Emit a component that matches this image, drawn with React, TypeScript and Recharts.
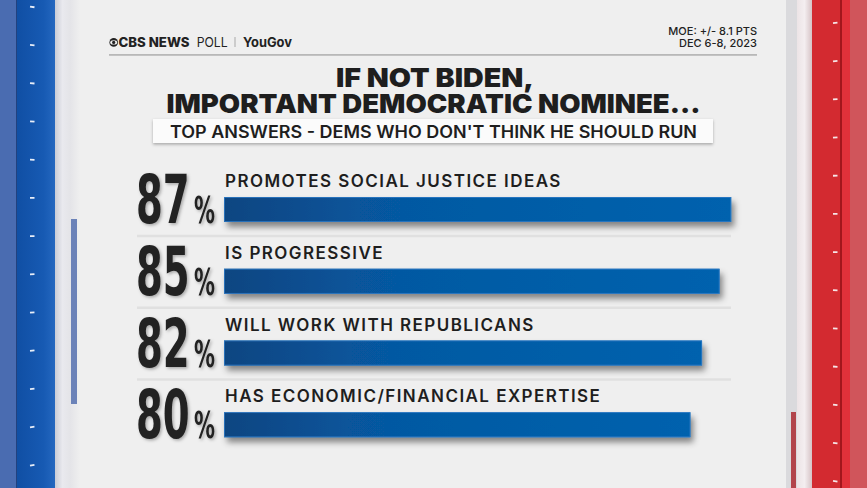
import React from "react";
import { BarChart, Bar, XAxis, YAxis, LabelList } from "recharts";

// Dems who don't think Biden should run: top answers
const answers = [
  "PROMOTES SOCIAL JUSTICE IDEAS",
  "IS PROGRESSIVE",
  "WILL WORK WITH REPUBLICANS",
  "HAS ECONOMIC/FINANCIAL EXPERTISE",
];
const shares = [87, 85, 82, 80];

const data = answers.map((label, i) => ({ label, value: shares[i] }));

const W = 867;
const H = 488;
const INK = "#1e1e1e";
const SANS = "Inter, 'Noto Sans', sans-serif";
const CONDENSED = "'DejaVu Sans Condensed', 'DejaVu Sans', sans-serif";

const BarShape = (props: any) => {
  const { x, y, width, height, index } = props;
  return (
    <g>
      {index < data.length - 1 && (
        <line x1={137} x2={731} y1={y + height + 14} y2={y + height + 14} stroke="#e0e0e0" strokeWidth={2.5} />
      )}
      <rect x={x} y={y} width={width} height={height} fill="url(#barFill)" filter="url(#barShadow)" />
      <rect x={x + 0.4} y={y + 0.4} width={width - 0.8} height={height - 0.8} fill="none" stroke="#2f7bc6" strokeWidth={0.8} />
    </g>
  );
};

const AnswerLabel = (props: any) => {
  const { x, y, value } = props;
  return (
    <text x={x + 1} y={y - 10} fontFamily={SANS} fontWeight={600} fontSize={17} letterSpacing={1.45} fill={INK}>
      {value}
    </text>
  );
};

// big condensed share figure with a smaller % sign
const ShareLabel = (props: any) => {
  const { x, y, height, value } = props;
  const base = y + height + 1;
  return (
    <g filter="url(#numShadow)" fontFamily={CONDENSED} fontWeight={700} fill="#222">
      <g transform={`translate(${x - 88},${base}) scale(0.64,1)`}>
        <text x={0} y={0} fontSize={67}>
          {value}
        </text>
      </g>
      <g transform={`translate(${x - 30},${base}) scale(0.63,1)`}>
        <text x={0} y={0} fontSize={37}>
          %
        </text>
      </g>
    </g>
  );
};

const dashes = Array.from({ length: 13 }, (_, i) => i);

function Frame() {
  return (
    <svg width={W} height={H} style={{ position: "absolute", left: 0, top: 0 }}>
      <defs>
        <linearGradient id="blueBand" x1="0" x2="1" y1="0" y2="0">
          <stop offset="0" stopColor="#104fa4" />
          <stop offset="0.7" stopColor="#175ab3" />
          <stop offset="1" stopColor="#2467bf" />
        </linearGradient>
        <linearGradient id="leftEdge" x1="0" x2="1" y1="0" y2="0">
          <stop offset="0" stopColor="#c9ccd6" />
          <stop offset="0.3" stopColor="#e9e9ee" />
          <stop offset="0.6" stopColor="#e4e4e8" />
          <stop offset="1" stopColor="#efefef" />
        </linearGradient>
        <linearGradient id="rightEdge" x1="0" x2="1" y1="0" y2="0">
          <stop offset="0" stopColor="#ece4e6" />
          <stop offset="0.5" stopColor="#f4eef0" />
          <stop offset="1" stopColor="#d6c3c6" />
        </linearGradient>
        <filter id="boxShadow" x="-5%" y="-40%" width="110%" height="180%">
          <feDropShadow dx="0" dy="1.5" stdDeviation="1.5" floodColor="#000" floodOpacity="0.3" />
        </filter>
      </defs>

      <rect x={0} y={0} width={W} height={H} fill="#efefef" />

      {/* left blue stripe */}
      <rect x={0} y={0} width={17} height={H} fill="#4a6cb1" />
      <rect x={16} y={0} width={1.5} height={H} fill="#22427f" />
      <rect x={17} y={0} width={38} height={H} fill="url(#blueBand)" />
      <rect x={55} y={0} width={25} height={H} fill="url(#leftEdge)" />
      <rect x={71} y={219} width={6} height={185} fill="#6b82b8" />
      {dashes.map((i) => (
        <rect key={"l" + i} x={30} y={6 + i * 38.2} width={4.5} height={1.8} fill="#e8eef8" transform={`rotate(${8 - i * 1.5} 32 ${7 + i * 38.2})`} />
      ))}

      {/* right red stripe */}
      <rect x={786} y={0} width={11} height={H} fill="#dadadd" />
      <rect x={797} y={0} width={15} height={H} fill="url(#rightEdge)" />
      <rect x={812} y={0} width={28} height={H} fill="#d32a30" />
      <rect x={840} y={0} width={2} height={H} fill="#a3161c" />
      <rect x={842} y={0} width={8} height={H} fill="#e1313a" />
      <rect x={850} y={0} width={17} height={H} fill="#d0555b" />
      <rect x={791} y={412} width={5} height={76} fill="#b2454c" />
      {dashes.map((i) => (
        <rect key={"r" + i} x={833} y={22 + i * 38.2} width={4.5} height={1.8} fill="#f6e6e8" transform={`rotate(${-8 + i * 1.5} 835 ${23 + i * 38.2})`} />
      ))}

      {/* header */}
      <circle cx={113.7} cy={42.4} r={4.3} fill="#222" />
      <ellipse cx={113.7} cy={42.4} rx={3.5} ry={2.2} fill="#efefef" />
      <circle cx={113.7} cy={42.4} r={1.6} fill="#222" />
      <text x={118.5} y={46.7} fontFamily={SANS} fontWeight={800} fontSize={13} textLength={71} lengthAdjust="spacingAndGlyphs" fill="#222">
        CBS NEWS
      </text>
      <text x={196.7} y={46.7} fontFamily={SANS} fontWeight={400} fontSize={13} textLength={31} lengthAdjust="spacingAndGlyphs" fill="#222">
        POLL
      </text>
      <rect x={234.5} y={37} width={1} height={10} fill="#aaa" />
      <text x={243} y={46.7} fontFamily={SANS} fontWeight={700} fontSize={13} textLength={49} lengthAdjust="spacingAndGlyphs" fill="#222">
        YouGov
      </text>
      <rect x={109} y={54} width={648} height={1.8} fill="#b8b8b8" />
      <text x={757} y={35} textAnchor="end" fontFamily={SANS} fontWeight={500} fontSize={11} fill="#222">
        MOE: +/- 8.1 PTS
      </text>
      <text x={757} y={47.3} textAnchor="end" fontFamily={SANS} fontWeight={500} fontSize={11} fill="#222">
        DEC 6-8, 2023
      </text>

      {/* title, two lines in one text block */}
      <text textAnchor="middle" fontFamily={SANS} fontWeight={900} fontSize={26} fill={INK}>
        <tspan x={435} y={87} textLength={198} lengthAdjust="spacingAndGlyphs">
          IF NOT BIDEN,
        </tspan>
        <tspan x={433.5} y={113} textLength={534} lengthAdjust="spacingAndGlyphs">
          IMPORTANT DEMOCRATIC NOMINEE...
        </tspan>
      </text>
      <rect x={153} y={119} width={560} height={24} fill="#fbfbfb" filter="url(#boxShadow)" />
      <text x={433.5} y={138} textAnchor="middle" fontFamily={SANS} fontWeight={600} fontSize={17} textLength={527} lengthAdjust="spacingAndGlyphs" fill={INK}>
        TOP ANSWERS - DEMS WHO DON'T THINK HE SHOULD RUN
      </text>
    </svg>
  );
}

export default function App() {
  return (
    <div style={{ position: "absolute", left: 0, top: 0, width: W, height: H, overflow: "hidden" }}>
      <Frame />
      <div style={{ position: "absolute", left: 0, top: 0 }}>
        <BarChart width={W} height={H} data={data} layout="vertical" margin={{ top: 174, right: 60, bottom: 27, left: 224 }}>
          <defs>
            <linearGradient id="barFill" x1="0" x2="1" y1="0" y2="0">
              <stop offset="0" stopColor="#0a4581" />
              <stop offset="0.35" stopColor="#0659a2" />
              <stop offset="1" stopColor="#0562ae" />
            </linearGradient>
            <filter id="barShadow" x="-5%" y="-40%" width="112%" height="200%">
              <feDropShadow dx="3" dy="5" stdDeviation="3" floodColor="#000" floodOpacity="0.45" />
            </filter>
            <filter id="numShadow" x="-20%" y="-20%" width="140%" height="140%">
              <feDropShadow dx="1.5" dy="1.5" stdDeviation="1.5" floodColor="#000" floodOpacity="0.3" />
            </filter>
          </defs>
          <XAxis type="number" domain={[0, 100]} hide />
          <YAxis type="category" dataKey="label" hide />
          <Bar dataKey="value" barSize={25} shape={BarShape} isAnimationActive={false}>
            <LabelList dataKey="label" content={AnswerLabel} />
            <LabelList dataKey="value" content={ShareLabel} />
          </Bar>
        </BarChart>
      </div>
    </div>
  );
}
